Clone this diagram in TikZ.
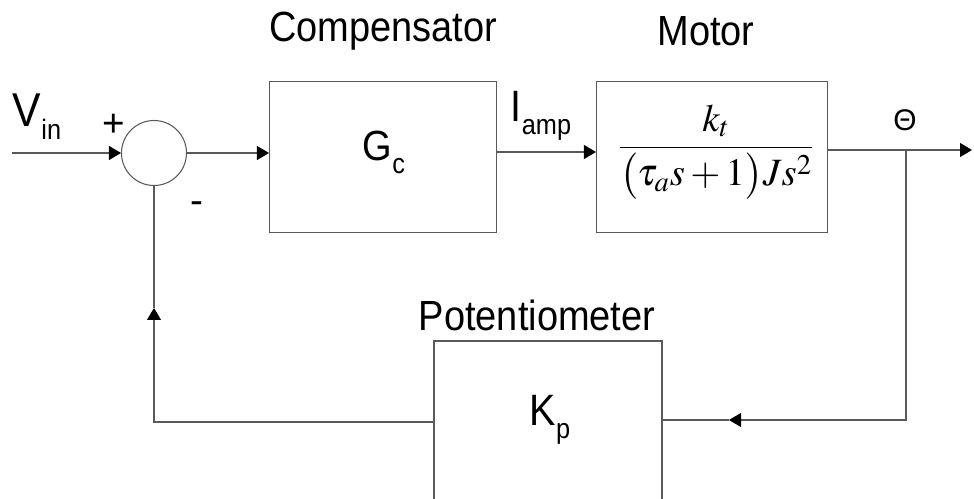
\documentclass[tikz,border=0pt]{standalone}
\usepackage{amsmath}
\usepackage{mathptmx}
\usepackage{fontspec}
\setmainfont{Liberation Sans}
\newfontfamily\narrowsans[FakeStretch=0.9]{Liberation Sans}
\usetikzlibrary{arrows.meta}

\newcommand{\lowsub}[1]{\raisebox{-2.6mm}{\fontsize{16}{18}\selectfont #1}}

\begin{document}
\begin{tikzpicture}[
  x=0.2mm, y=-0.2mm,
  line/.style={draw=black!65, line width=0.6pt},
  arr/.style={line, -{Triangle[length=2.4mm, width=2.8mm, color=black]}},
  block/.style={line, minimum width=45.4mm, minimum height=30.2mm, inner sep=0pt},
  sumnode/.style={line, circle, minimum size=13mm, inner sep=0pt},
  title/.style={font=\narrowsans\fontsize{24}{28}\selectfont},
  sym/.style={font=\narrowsans\fontsize{24}{28}\selectfont},
  sign/.style={font=\fontsize{22}{26}\selectfont}
]
\useasboundingbox (0,0) rectangle (974,499);
\clip (0,0) rectangle (974,499);

% blocks
\node[sumnode] (sum) at (154,153) {};
\node[block] (comp) at (383,157) {};
\node[block, minimum width=46.2mm] (motor) at (712,157) {};
\node[block, minimum width=45.6mm, minimum height=32.4mm] (pot) at (548,422) {};

% labels
\node[title] (comptitle) at (383,31) {Compensator};
\node[title] (motortitle) at (706,31) {Motor};
\node[title] (pottitle) at (537,315) {Potentiometer};
\node[sym] (gc) at (384,152) {G\lowsub{c}};
\node[sym, font=\narrowsans\fontsize{25}{30}\selectfont] (kp) at (550,420) {K\lowsub{p}};
\node[font=\fontsize{22}{26}\selectfont] (tf) at (716,152)
  {$\dfrac{k_t}{\bigl(\tau_a s+1\bigr)Js^2}$};
\node[sym, font=\narrowsans\fontsize{27}{30}\selectfont] (vin) at (37,117) {V\lowsub{in}};
\node[sym, font=\narrowsans\fontsize{25}{30}\selectfont] (iamp) at (541,116) {I\lowsub{amp}};
\node[font=\fontsize{17}{20}\selectfont] (theta) at (905,120) {Θ};
\node[sign] (plus) at (114,125) {+};
\node[sign] (minus) at (197,208) {-};

% signal path
\coordinate (in) at (12,153);
\coordinate (out) at (972,150);
\coordinate (tap) at (906,150);
\coordinate (tapdown) at (906,420);
\coordinate (fbmid) at (729,420);
\coordinate (corner) at (154,422);
\coordinate (upmid) at (154,308);

\draw[arr] (in) -- (sum.west);
\draw[arr] (sum.east) -- (comp.west |- sum.east);
\draw[arr] (comp.east |- 0,152) -- (motor.west |- 0,152);
\draw[arr] (motor.east |- out) -- (out);
\draw[arr] (tap) -- (tapdown) -- (fbmid);
\draw[line] (fbmid) -- (pot.east |- fbmid);
\draw[arr] (pot.west |- corner) -- (corner) -- (upmid);
\draw[line] (upmid) -- (sum.south);
\end{tikzpicture}
\end{document}
